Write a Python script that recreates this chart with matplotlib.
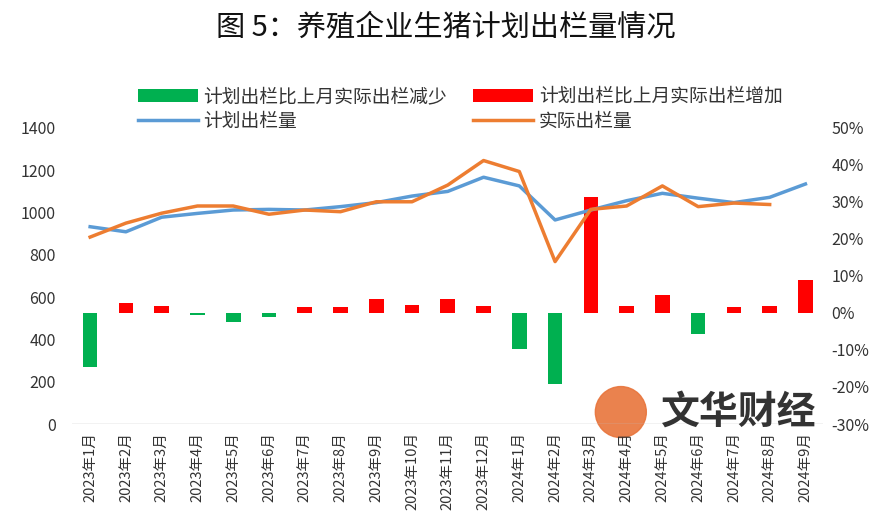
import matplotlib
matplotlib.use('Agg')
import matplotlib.pyplot as plt
import numpy as np
from matplotlib.patches import Ellipse

plt.rcParams['font.family'] = ['Noto Sans CJK SC', 'DejaVu Sans']

months = ['2023年1月', '2023年2月', '2023年3月', '2023年4月', '2023年5月', '2023年6月',
          '2023年7月', '2023年8月', '2023年9月', '2023年10月', '2023年11月', '2023年12月',
          '2024年1月', '2024年2月', '2024年3月', '2024年4月', '2024年5月', '2024年6月',
          '2024年7月', '2024年8月', '2024年9月']
plan = [933, 909, 978, 996, 1012, 1015, 1012, 1028, 1047, 1078, 1100, 1167,
        1126, 965, 1012, 1056, 1091, 1068, 1047, 1072, 1135]
actual = [884, 950, 997, 1031, 1031, 992, 1012, 1004, 1051, 1051, 1130, 1246,
          1194, 768, 1015, 1031, 1126, 1028, 1045, 1038, np.nan]
change = [-14.6, 2.6, 2.0, -0.5, -2.4, -1.2, 1.5, 1.5, 3.7, 2.2, 3.8, 2.0,
          -9.7, -19.2, 31.3, 2.0, 4.9, -5.6, 1.6, 2.0, 9.0]

x = np.arange(len(months))
change = np.array(change)
dec = np.where(change < 0, change, np.nan)
inc = np.where(change >= 0, change, np.nan)

fig = plt.figure(figsize=(8.92, 5.31), dpi=100)
ax = fig.add_axes([0.081, 0.2015, 0.842, 0.5575])
ax2 = ax.twinx()

b1 = ax2.bar(x, dec, width=0.41, color='#00B050', label='计划出栏比上月实际出栏减少')
b2 = ax2.bar(x, inc, width=0.41, color='#FF0000', label='计划出栏比上月实际出栏增加')
l1, = ax2.plot([], [], color='#5B9BD5', lw=2.5, label='计划出栏量')
l2, = ax2.plot([], [], color='#ED7D31', lw=2.5, label='实际出栏量')

ax.set_zorder(2)
ax.patch.set_visible(False)
ax.plot(x, plan, color='#5B9BD5', lw=2.5)
ax.plot(x, actual, color='#ED7D31', lw=2.5)

ax.set_xlim(-0.5, len(months) - 0.5)
ax.set_ylim(0, 1400)
ax.set_yticks(range(0, 1401, 200))
ax2.set_ylim(-30, 50)
ax2.set_yticks(range(-30, 51, 10))
ax2.set_yticklabels([f'{v}%' for v in range(-30, 51, 10)])

ax.set_xticks(x)
ax.set_xticklabels(months, rotation=90, fontsize=10.5, color='#333333')
for a in (ax, ax2):
    for s in a.spines.values():
        s.set_visible(False)
    a.tick_params(axis='y', length=0, labelsize=11.5, colors='#333333')
ax.tick_params(axis='x', length=0, pad=6)
ax.tick_params(axis='y', pad=12)
ax2.tick_params(axis='y', pad=6)
ax.axhline(0, color='#BFBFBF', lw=1)

fig.legend(handles=[b1, l1, b2, l2], ncol=2, loc='upper left',
           bbox_to_anchor=(0.144, 0.856), frameon=False, fontsize=13.5,
           handlelength=3.2, handletextpad=0.3, columnspacing=1.4,
           labelspacing=0.2, labelcolor='#333333', borderpad=0)

fig.text(0.5, 0.947, '图 5：养殖企业生猪计划出栏量情况', ha='center', va='center',
         fontsize=21, color='#111111')

# watermark
fig.patches.append(Ellipse((0.696, 0.224), 51 / 892, 51 / 531, transform=fig.transFigure,
                           color='#E8743B', alpha=0.9, figure=fig))
fig.text(0.828, 0.224, '文华财经', ha='center', va='center', fontsize=28,
         fontweight='bold', color='#333333')

fig.savefig('out.png', dpi=100)
